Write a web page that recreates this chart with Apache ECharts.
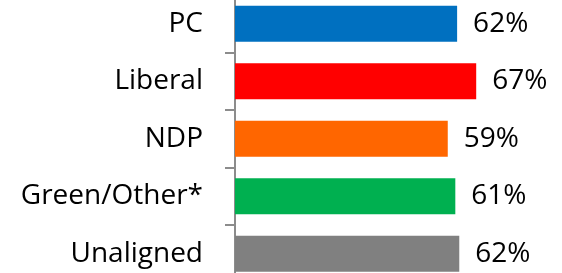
<!DOCTYPE html>
<html><head><meta charset="utf-8">
<script src="https://cdn.jsdelivr.net/npm/echarts@6/dist/echarts.min.js"></script>
<style>html,body{margin:0;padding:0;background:#fff}#c{width:562px;height:273px}</style>
</head><body><div id="c"></div>
<script>
const categories = ["PC", "Liberal", "NDP", "Green/Other*", "Unaligned"];
const values = [61.7, 67.0, 59.1, 61.2, 62.3];
const colors = ["#0070C0", "#FF0000", "#FF6600", "#00B050", "#808080"];

const chart = echarts.init(document.getElementById('c'), null, {renderer: 'canvas'});
chart.setOption({
  animation: false,
  grid: {left: 235, right: 3, top: -5, height: 287.5, containLabel: false, outerBoundsMode: 'none'},
  xAxis: {type: 'value', min: 0, max: 90, show: false},
  yAxis: {
    type: 'category', data: categories, inverse: true,
    axisLine: {lineStyle: {color: '#8c8c8c', width: 2}},
    axisTick: {show: true, length: 10, lineStyle: {color: '#8c8c8c', width: 2}},
    axisLabel: {fontFamily: 'Open Sans', fontSize: 28, color: '#000', margin: 32}
  },
  series: [{
    type: 'bar', barCategoryGap: '37%',
    data: values.map((v, i) => ({value: v, itemStyle: {color: colors[i]}})),
    label: {show: true, position: 'right', distance: 16, fontFamily: 'Open Sans', fontSize: 28, color: '#000',
      formatter: p => Math.round(p.value) + '%'}
  }]
});
</script></body></html>
